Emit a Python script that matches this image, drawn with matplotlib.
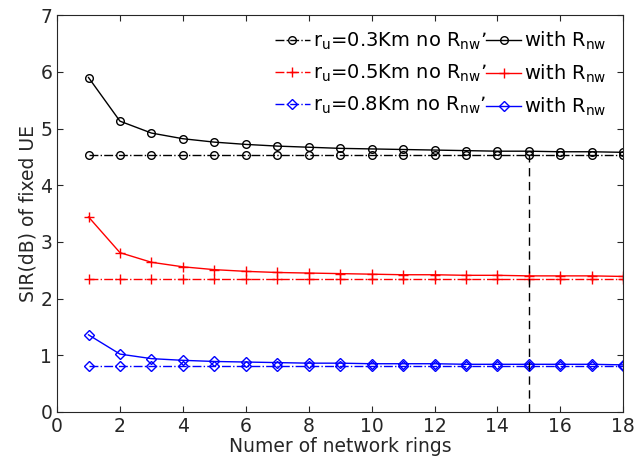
import numpy as np
import matplotlib
matplotlib.use('Agg')
import matplotlib.pyplot as plt

rings = list(range(1, 19))

# SIR (dB) values
sir_03_no = [4.53] * 18
sir_03_with = [5.90, 5.13, 4.92, 4.82, 4.76, 4.72, 4.69, 4.67, 4.65,
               4.64, 4.63, 4.62, 4.61, 4.60, 4.60, 4.59, 4.59, 4.58]
sir_05_no = [2.35] * 18
sir_05_with = [3.44, 2.81, 2.64, 2.56, 2.51, 2.48, 2.46, 2.45, 2.44,
               2.43, 2.42, 2.42, 2.41, 2.41, 2.40, 2.40, 2.40, 2.39]
sir_08_no = [0.81] * 18
sir_08_with = [1.36, 1.02, 0.94, 0.91, 0.89, 0.88, 0.87, 0.86, 0.86,
               0.85, 0.85, 0.85, 0.84, 0.84, 0.84, 0.84, 0.84, 0.83]

mark_x = 15
mark_top = 4.53

plt.rcParams['font.family'] = 'DejaVu Sans'

fig = plt.figure(figsize=(6.34, 4.74), dpi=100)
ax = fig.add_axes([0.09, 0.131, 0.893, 0.837])

h1, = ax.plot(rings, sir_03_no, '-.', color='k', marker='o', mfc='none', ms=5.5, lw=1)
h2, = ax.plot(rings, sir_05_no, '-.', color='r', marker='+', ms=7, lw=1)
h3, = ax.plot(rings, sir_08_no, '-.', color='b', marker='D', mfc='none', ms=5, lw=1)
h4, = ax.plot(rings, sir_03_with, '-', color='k', marker='o', mfc='none', ms=5.5, lw=1)
h5, = ax.plot(rings, sir_05_with, '-', color='r', marker='+', ms=7, lw=1)
h6, = ax.plot(rings, sir_08_with, '-', color='b', marker='D', mfc='none', ms=5, lw=1)

ax.plot([mark_x, mark_x], [0, mark_top], color='k', lw=1, dashes=(6, 4))

labels = ["$\\mathregular{r_u}$=0.3Km no $\\mathregular{R_{nw}}$\u2019",
          "$\\mathregular{r_u}$=0.5Km no $\\mathregular{R_{nw}}$\u2019",
          "$\\mathregular{r_u}$=0.8Km no $\\mathregular{R_{nw}}$\u2019",
          "with $\\mathregular{R_{nw}}$",
          "with $\\mathregular{R_{nw}}$",
          "with $\\mathregular{R_{nw}}$"]
ax.legend([h1, h2, h3, h4, h5, h6], labels, ncol=2, frameon=False,
          loc='upper right', bbox_to_anchor=(0.99, 0.99), fontsize=14,
          handlelength=1.8, handletextpad=0.15, columnspacing=0.0,
          labelspacing=0.55, borderaxespad=0.15)

ax.set_xlim(0, 18)
ax.set_ylim(0, 7)
ax.set_xticks(range(0, 19, 2))
ax.set_yticks(range(0, 8))
ax.tick_params(direction='in', top=True, right=True, labelsize=13.5,
               colors='#262626', length=4)
for s in ax.spines.values():
    s.set_color('#262626')
ax.set_xlabel('Numer of network rings', fontsize=13.5, color='#262626', labelpad=1)
ax.set_ylabel('SIR(dB) of fixed UE', fontsize=13.5, color='#262626', labelpad=2)

plt.savefig('out.png', format='png', dpi=100)
